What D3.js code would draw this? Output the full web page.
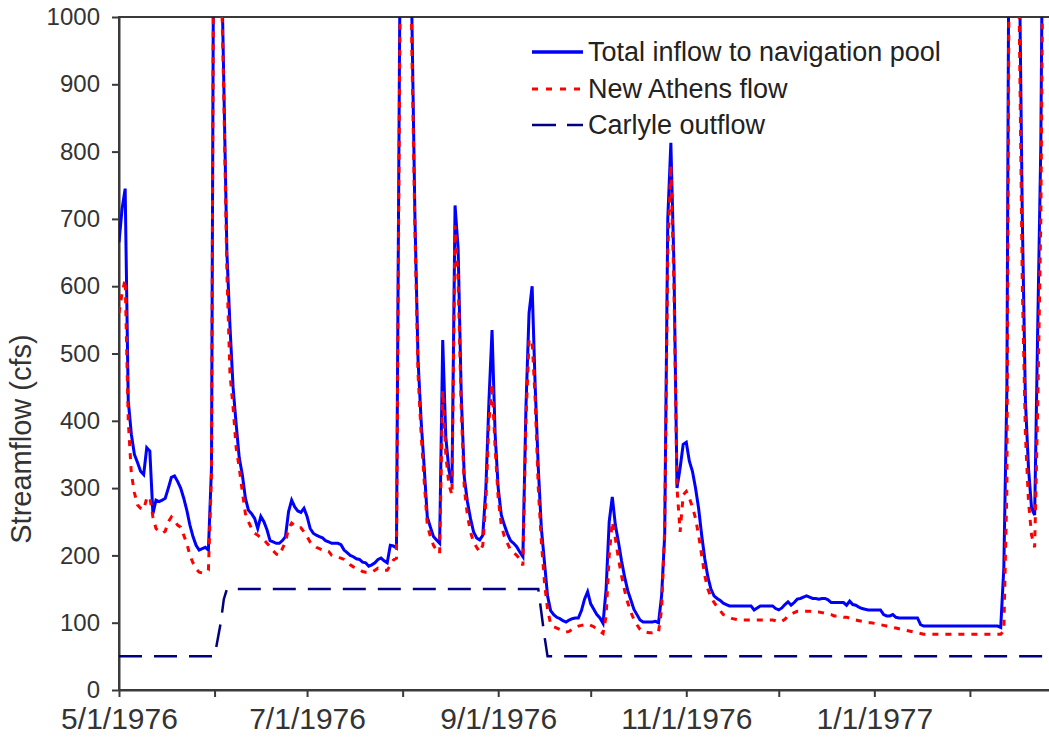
<!DOCTYPE html>
<html>
<head>
<meta charset="utf-8">
<script src="https://cdn.jsdelivr.net/npm/d3@7"></script>
<style>
  body { margin: 0; background: #fff; }
  svg { display: block; font-family: "Liberation Sans", Arial, sans-serif; }
</style>
</head>
<body>
<svg width="1049" height="740"></svg>
<script>
// daily values, first value is 5/1/1976
const startDate = Date.UTC(1976, 4, 1);

const totalInflow = [
  665, 715, 745, 430, 380, 350, 338, 325, 320, 360,
  355, 262, 282, 280, 282, 285, 300, 316, 318, 310,
  300, 285, 267, 245, 228, 215, 208, 210, 212, 208,
  330, 1500, 1700, 1150, 900, 650, 540, 450, 395, 345,
  320, 285, 267, 262, 255, 240, 258, 250, 238, 222,
  220, 218, 218, 222, 228, 265, 282, 272, 266, 264,
  270, 258, 240, 233, 230, 228, 226, 222, 220, 218,
  218, 218, 216, 208, 204, 200, 198, 195, 194, 190,
  189, 184, 186, 189, 194, 196, 192, 189, 215, 214,
  211, 960, 1600, 1800, 1400, 1000, 700, 490, 400, 330,
  257, 242, 228, 223, 218, 520, 376, 327, 307, 720,
  656, 440, 316, 280, 255, 235, 226, 223, 230, 300,
  430, 535, 380, 300, 260, 245, 232, 222, 218, 213,
  205, 198, 420, 560, 600, 450, 330, 240, 190, 140,
  118, 112, 108, 106, 103, 101, 104, 106, 107, 107,
  118, 135, 146, 128, 120, 112, 107, 99, 150, 250,
  287, 245, 220, 192, 168, 148, 134, 120, 112, 104,
  101, 101, 101, 101, 102, 100, 140, 230, 700, 813,
  632, 300, 330, 365, 368, 340, 325, 300, 270, 230,
  195, 168, 150, 140, 136, 133, 129, 127, 125, 125,
  125, 125, 125, 125, 125, 125, 119, 122, 125, 125,
  125, 125, 125, 121, 119, 122, 127, 131, 126, 130,
  135, 136, 138, 140, 138, 136, 136, 135, 136, 136,
  134, 130, 130, 130, 130, 130, 126, 132, 127, 126,
  123, 121, 120, 119, 119, 119, 119, 119, 112, 110,
  110, 112, 108, 107, 107, 107, 107, 107, 107, 107,
  97, 95, 95, 95, 95, 95, 95, 95, 95, 95,
  95, 95, 95, 95, 95, 95, 95, 95, 95, 95,
  95, 95, 95, 95, 95, 95, 93, 181, 450, 1500,
  1800, 1500, 1100, 700, 430, 330, 270, 260, 540, 810,
  1400, 1600, 1600
];

const newAthens = [
  560, 590, 610, 400, 322, 293, 275, 270, 268, 285,
  287, 257, 240, 235, 233, 236, 250, 257, 252, 245,
  242, 230, 218, 200, 189, 180, 175, 174, 175, 178,
  320, 1500, 1700, 1100, 880, 620, 470, 420, 360, 330,
  295, 262, 250, 240, 233, 230, 226, 223, 218, 213,
  207, 202, 200, 210, 220, 240, 248, 244, 241, 241,
  235, 228, 220, 216, 212, 210, 208, 208, 206, 200,
  198, 197, 196, 194, 190, 186, 183, 181, 179, 176,
  175, 175, 175, 178, 181, 180, 178, 178, 185, 193,
  196, 900, 1500, 1700, 1300, 950, 680, 470, 380, 310,
  245, 228, 215, 208, 203, 445, 350, 305, 290, 690,
  610, 420, 300, 260, 235, 220, 212, 205, 215, 280,
  400, 455, 360, 285, 245, 228, 218, 208, 204, 200,
  195, 185, 400, 520, 520, 430, 300, 220, 160, 120,
  98, 94, 92, 90, 88, 86, 87, 90, 93, 95,
  96, 97, 98, 96, 94, 90, 87, 84, 110, 200,
  250, 225, 195, 170, 148, 130, 116, 105, 97, 90,
  87, 86, 85, 85, 86, 86, 120, 240, 650, 780,
  600, 300, 235, 290, 295, 285, 272, 255, 230, 200,
  170, 150, 138, 130, 124, 118, 112, 110, 108, 106,
  105, 104, 104, 104, 104, 104, 104, 104, 104, 104,
  104, 104, 104, 103, 101, 102, 105, 110, 113, 115,
  117, 117, 117, 117, 117, 116, 116, 116, 115, 114,
  113, 112, 110, 110, 109, 108, 108, 107, 106, 104,
  103, 102, 101, 100, 100, 99, 98, 97, 96, 95,
  94, 93, 92, 91, 90, 89, 88, 87, 86, 85,
  84, 83, 83, 83, 83, 83, 83, 83, 83, 83,
  83, 83, 83, 83, 83, 83, 83, 83, 83, 83,
  83, 83, 83, 83, 83, 83, 83, 88, 300, 1400,
  1700, 1400, 1000, 600, 380, 280, 230, 212, 420, 700,
  1300, 1500, 1500
];

// Carlyle outflow only changes a few times, so day offset + value
const carlyleDays = [0, 31, 32, 33, 34, 35, 136, 137, 138, 139, 304];
const carlyleFlow = [50, 50, 75, 100, 135, 150, 150, 115, 80, 50, 50];

const yTicks = [0, 100, 200, 300, 400, 500, 600, 700, 800, 900, 1000];
const seriesNames = ["Total inflow to navigation pool", "New Athens flow", "Carlyle outflow"];

function dayToDate(i) {
    return new Date(startDate + i * 86400000);
}

let inflowData = totalInflow.map((v, i) => ({date: dayToDate(i), value: v}));
let athensData = newAthens.map((v, i) => ({date: dayToDate(i), value: v}));
let carlyleData = carlyleDays.map((d, i) => ({date: dayToDate(d), value: carlyleFlow[i]}));

let plotLeft = 119, plotTop = 17, plotBottom = 690;
let plotRight = 119 + 304 * 3.083;

let svg = d3.select("svg");

let xScale = d3.scaleUtc()
    .domain([new Date(Date.UTC(1976, 4, 1)), new Date(Date.UTC(1977, 2, 1))])
    .range([plotLeft, plotRight]);

let yScale = d3.scaleLinear()
    .domain([0, 1000])
    .range([plotBottom, plotTop]);

svg.append("clipPath")
    .attr("id", "plotclip")
    .append("rect")
    .attr("x", plotLeft)
    .attr("y", plotTop)
    .attr("width", plotRight - plotLeft)
    .attr("height", plotBottom - plotTop);

// plot border (top edge visible)
svg.append("rect")
    .attr("x", plotLeft)
    .attr("y", plotTop)
    .attr("width", plotRight - plotLeft)
    .attr("height", plotBottom - plotTop)
    .attr("fill", "none")
    .attr("stroke", "#3a3a3a")
    .attr("stroke-width", 2);

/// y axis ///
let yAxis = svg.append("g")
    .attr("transform", `translate(${plotLeft},0)`)
    .call(d3.axisLeft(yScale).tickValues(yTicks).tickFormat(d3.format("d"))
        .tickSize(7).tickPadding(12).tickSizeOuter(0));

yAxis.select(".domain").attr("stroke", "#3a3a3a").attr("stroke-width", 2);
yAxis.selectAll(".tick line").attr("stroke", "#3a3a3a").attr("stroke-width", 2);
yAxis.selectAll("text")
    .attr("fill", "#333")
    .style("font-size", "24px")
    .attr("font-family", "Liberation Sans, Arial, sans-serif");

/// x axis, tick every month, label every other one ///
let monthTicks = d3.utcMonth.range(new Date(Date.UTC(1976, 4, 1)), new Date(Date.UTC(1977, 1, 2)));
let fmt = d => (d.getUTCMonth() % 2 === 0) ? `${d.getUTCMonth() + 1}/${d.getUTCDate()}/${d.getUTCFullYear()}` : "";

let xAxis = svg.append("g")
    .attr("transform", `translate(0,${plotBottom})`)
    .call(d3.axisBottom(xScale).tickValues(monthTicks).tickFormat(fmt).tickSize(7).tickPadding(11).tickSizeOuter(0));

xAxis.select(".domain").attr("stroke", "#3a3a3a").attr("stroke-width", 2);
xAxis.selectAll(".tick line").attr("stroke", "#3a3a3a").attr("stroke-width", 2);
xAxis.selectAll("text")
    .attr("fill", "#333")
    .style("font-size", "30px")
    .attr("font-family", "Liberation Sans, Arial, sans-serif");

/// y axis title ///
svg.append("text")
    .attr("transform", "rotate(-90)")
    .attr("x", -439)
    .attr("y", 31)
    .attr("text-anchor", "middle")
    .attr("fill", "#333")
    .style("font-size", "29px")
    .text("Streamflow (cfs)");

/// lines ///
let line = d3.line()
    .x(d => xScale(d.date))
    .y(d => yScale(d.value));

let lines = svg.append("g").attr("clip-path", "url(#plotclip)");

lines.append("path")
    .datum(inflowData)
    .attr("d", line)
    .attr("fill", "none")
    .attr("stroke", "#0000ff")
    .attr("stroke-width", 3);

lines.append("path")
    .datum(athensData)
    .attr("d", line)
    .attr("fill", "none")
    .attr("stroke", "#ff0000")
    .attr("stroke-width", 3)
    .attr("stroke-dasharray", "6,7");

lines.append("path")
    .datum(carlyleData)
    .attr("d", line)
    .attr("fill", "none")
    .attr("stroke", "#000080")
    .attr("stroke-width", 2.5)
    .attr("stroke-dasharray", "23,12");

/// legend ///
let legendStyles = [
    {color: "#0000ff", width: 3.5, dash: null},
    {color: "#ff0000", width: 3, dash: "6,8"},
    {color: "#000080", width: 2.5, dash: "24,11"}
];
let legendY = [52, 89, 125];

let legend = svg.append("g");
seriesNames.forEach((name, i) => {
    legend.append("line")
        .attr("x1", 532).attr("x2", 583)
        .attr("y1", legendY[i]).attr("y2", legendY[i])
        .attr("stroke", legendStyles[i].color)
        .attr("stroke-width", legendStyles[i].width)
        .attr("stroke-dasharray", legendStyles[i].dash);
    legend.append("text")
        .attr("x", 588)
        .attr("y", legendY[i] + 9)
        .attr("fill", "#222")
        .style("font-size", "27px")
        .text(name);
});
</script>
</body>
</html>
